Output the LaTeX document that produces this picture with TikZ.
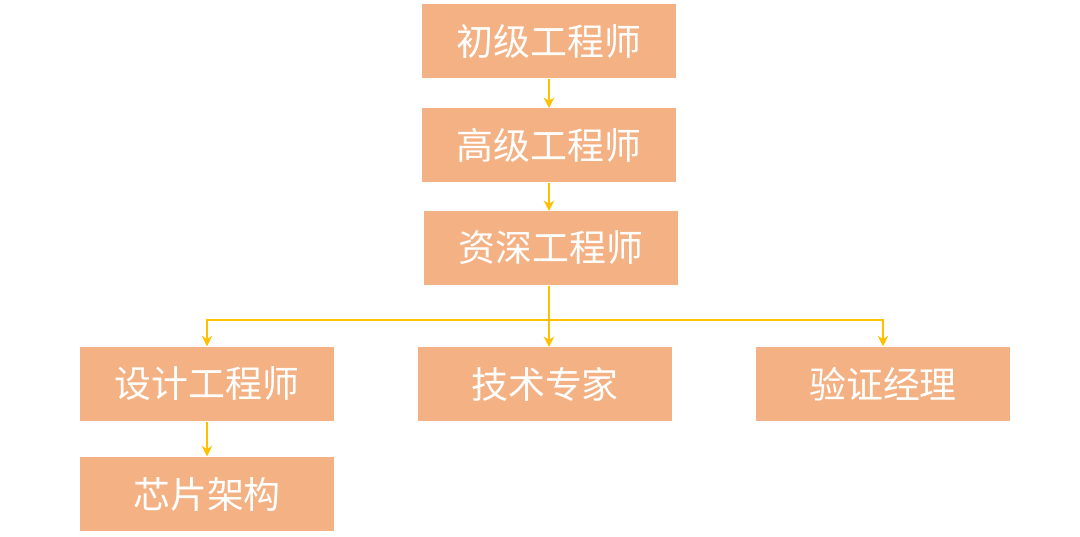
\documentclass[tikz,border=0pt]{standalone}
\usepackage{fontspec}
\newfontfamily\cjk{Noto Sans CJK SC}
\usetikzlibrary{arrows.meta}
\definecolor{boxfill}{HTML}{F4B183}
\definecolor{linkline}{HTML}{FFC000}
\begin{document}
\begin{tikzpicture}[x=0.01cm, y=-0.01cm,
		rolebox/.style={fill=boxfill, minimum width=2.54cm, minimum height=0.74cm,
			text=white, font=\cjk\fontsize{10.5}{12}\selectfont},
		link/.style={draw=linkline, line width=0.4pt, -{Stealth[length=3pt, width=3pt]}}]
		\useasboundingbox (0,0) rectangle (1080,536);
		% Main career path
		\node[rolebox] (junior) at (549,41) {初级工程师};
		\node[rolebox] (senior) at (549,145) {高级工程师};
		\node[rolebox] (staff) at (551,248) {资深工程师};
		% Branches
		\node[rolebox] (design) at (207,384) {设计工程师};
		\node[rolebox] (expert) at (545,384) {技术专家};
		\node[rolebox] (verify) at (883,384) {验证经理};
		\node[rolebox] (arch) at (207,494) {芯片架构};
		\coordinate (split) at (549,320);
		\draw[link] (junior.south -| 549,0) -- (549,108);
		\draw[link] (senior.south -| 549,0) -- (549,211);
		\draw[link] (staff.south -| 549,0) -- (549,347);
		\draw[link] (staff.south -| 549,0) -- (split) -| (design.north);
		\draw[link] (split) -| (verify.north);
		\draw[link] (design.south) -- (arch.north);
	\end{tikzpicture}
\end{document}
